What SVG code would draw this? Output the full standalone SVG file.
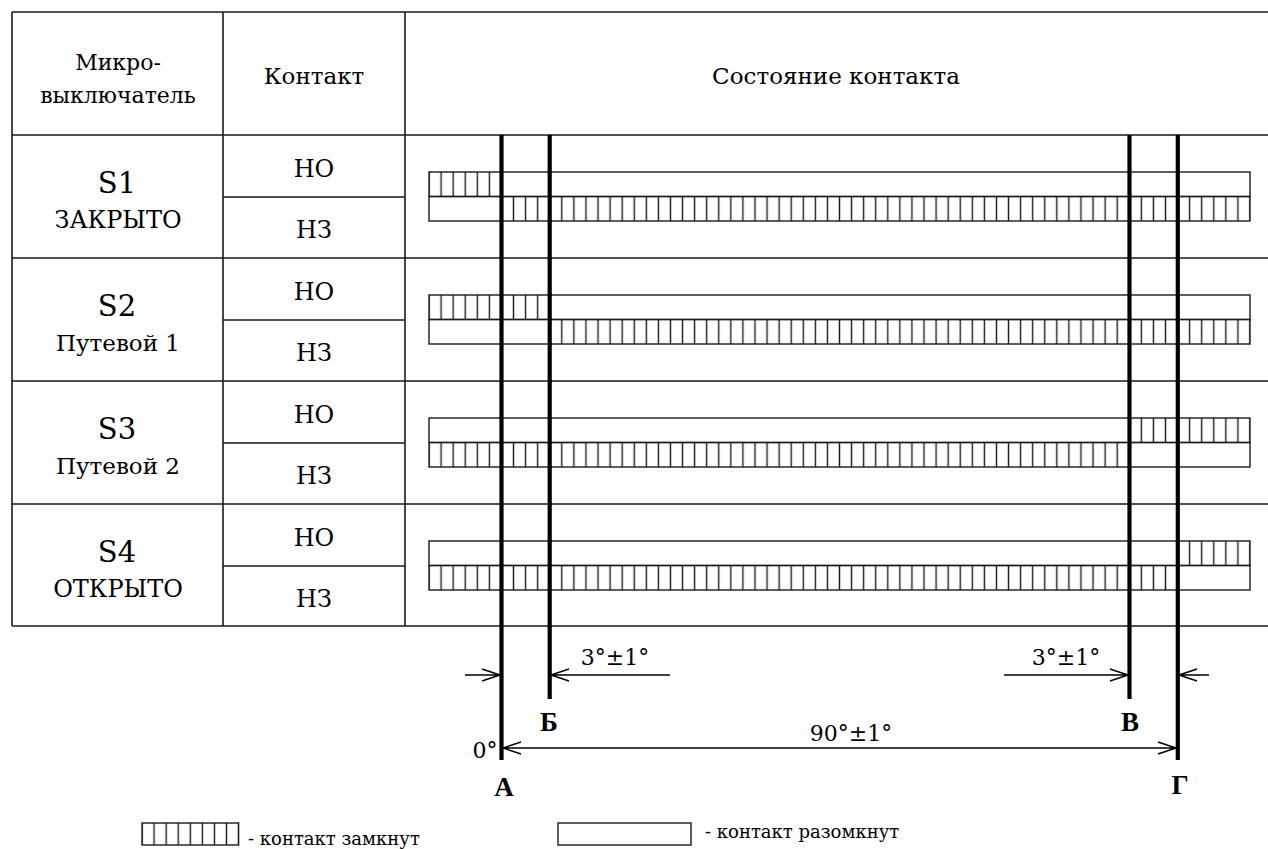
<svg xmlns="http://www.w3.org/2000/svg" width="1268" height="849" viewBox="0 0 1268 849">
<style>
.grid{stroke:#1a1a1a;stroke-width:1.6;fill:none}
.bar{stroke:#1a1a1a;stroke-width:1.4;fill:none}
.thick{stroke:#000;stroke-width:4.2}
.dim{stroke:#000;stroke-width:1.5;fill:none}
</style>
<defs>
<pattern id="hatch" patternUnits="userSpaceOnUse" x="422.963" y="0" width="12.0735" height="20">
<line x1="6.037" y1="0" x2="6.037" y2="20" stroke="#1a1a1a" stroke-width="1.4"/>
</pattern>
<pattern id="hatchL" patternUnits="userSpaceOnUse" x="135.963" y="0" width="12.0735" height="20">
<line x1="6.037" y1="0" x2="6.037" y2="20" stroke="#1a1a1a" stroke-width="1.4"/>
</pattern>
</defs>
<rect width="1268" height="849" fill="#fff"/>

<g id="table">
<path class="grid" d="M12,12H1268M12,135H1268M12,258H1268M12,381H1268M12,504H1268M12,626H1268M12,12V626M223,12V626M405,12V626M223,197H405M223,320H405M223,443H405M223,566H405"/>
</g>

<g text-anchor="middle" fill="#000">
<g id="header">
<text font-family="DejaVu Serif" font-size="22" x="118" y="70">Микро-</text>
<text font-family="DejaVu Serif" font-size="22" x="118" y="103">выключатель</text>
<text font-family="DejaVu Serif" font-size="23" x="314" y="84">Контакт</text>
<text font-family="DejaVu Serif" font-size="23" x="836" y="84">Состояние контакта</text>
</g>

<g id="s1">
<text font-family="DejaVu Serif" font-size="29" x="117" y="193">S1</text>
<text font-family="DejaVu Serif" font-size="24" x="118" y="228">ЗАКРЫТО</text>
<text font-family="DejaVu Serif" font-size="24" x="314" y="177">НО</text>
<text font-family="DejaVu Serif" font-size="24" x="314" y="238">НЗ</text>
</g>
<g id="s2">
<text font-family="DejaVu Serif" font-size="29" x="117" y="316">S2</text>
<text font-family="DejaVu Serif" font-size="23" x="118" y="351">Путевой 1</text>
<text font-family="DejaVu Serif" font-size="24" x="314" y="300">НО</text>
<text font-family="DejaVu Serif" font-size="24" x="314" y="361">НЗ</text>
</g>
<g id="s3">
<text font-family="DejaVu Serif" font-size="29" x="117" y="439">S3</text>
<text font-family="DejaVu Serif" font-size="23" x="118" y="474">Путевой 2</text>
<text font-family="DejaVu Serif" font-size="24" x="314" y="423">НО</text>
<text font-family="DejaVu Serif" font-size="24" x="314" y="484">НЗ</text>
</g>
<g id="s4">
<text font-family="DejaVu Serif" font-size="29" x="117" y="562">S4</text>
<text font-family="DejaVu Serif" font-size="24" x="118" y="597">ОТКРЫТО</text>
<text font-family="DejaVu Serif" font-size="24" x="314" y="546">НО</text>
<text font-family="DejaVu Serif" font-size="24" x="314" y="607">НЗ</text>
</g>

<g id="labels">
<text font-family="DejaVu Serif" font-size="22" x="615" y="665">3°±1°</text>
<text font-family="DejaVu Serif" font-size="22" x="1066" y="665">3°±1°</text>
<text font-family="DejaVu Serif" font-size="22" x="851" y="741">90°±1°</text>
<text font-family="DejaVu Serif" font-size="22" x="485" y="758">0°</text>
<text font-family="Liberation Serif" font-size="27" font-weight="bold" x="549" y="731">Б</text>
<text font-family="Liberation Serif" font-size="27" font-weight="bold" x="504" y="796">А</text>
<text font-family="Liberation Serif" font-size="27" font-weight="bold" x="1130" y="731">В</text>
<text font-family="Liberation Serif" font-size="27" font-weight="bold" x="1180" y="794">Г</text>
</g>
<g id="legend-text" text-anchor="start">
<text font-family="DejaVu Serif" font-size="18" x="248" y="845">- контакт замкнут</text>
<text font-family="DejaVu Serif" font-size="18" x="705" y="838">- контакт разомкнут</text>
</g>
</g>

<g id="bars">
<rect x="429" y="172" width="72.44" height="24.5" fill="url(#hatch)"/>
<rect x="501.44" y="196.5" width="748.56" height="24.5" fill="url(#hatch)"/>
<rect class="bar" x="429" y="172" width="821" height="24.5"/>
<rect class="bar" x="429" y="196.5" width="821" height="24.5"/>
<rect x="429" y="295" width="120.7" height="24.5" fill="url(#hatch)"/>
<rect x="549.7" y="319.5" width="700.3" height="24.5" fill="url(#hatch)"/>
<rect class="bar" x="429" y="295" width="821" height="24.5"/>
<rect class="bar" x="429" y="319.5" width="821" height="24.5"/>
<rect x="1129.3" y="418" width="120.7" height="24.5" fill="url(#hatch)"/>
<rect x="429" y="442.5" width="700.3" height="24.5" fill="url(#hatch)"/>
<rect class="bar" x="429" y="418" width="821" height="24.5"/>
<rect class="bar" x="429" y="442.5" width="821" height="24.5"/>
<rect x="1177.6" y="541" width="72.4" height="24.5" fill="url(#hatch)"/>
<rect x="429" y="565.5" width="748.6" height="24.5" fill="url(#hatch)"/>
<rect class="bar" x="429" y="541" width="821" height="24.5"/>
<rect class="bar" x="429" y="565.5" width="821" height="24.5"/>
</g>

<g id="connectors">
<line class="thick" x1="501.5" y1="135" x2="501.5" y2="760"/>
<line class="thick" x1="549.7" y1="135" x2="549.7" y2="699"/>
<line class="thick" x1="1129.5" y1="135" x2="1129.5" y2="699"/>
<line class="thick" x1="1177.8" y1="135" x2="1177.8" y2="760"/>
<path class="dim" d="M465,675H500M482,669L500,675L482,681"/>
<path class="dim" d="M551,675H670M569,669L551,675L569,681"/>
<path class="dim" d="M1004,675H1128M1110,669L1128,675L1110,681"/>
<path class="dim" d="M1179,675H1209M1197,669L1179,675L1197,681"/>
<path class="dim" d="M503,748H1176M521,742L503,748L521,754M1158,742L1176,748L1158,754"/>
</g>

<g id="legend">
<rect x="142" y="823" width="96.6" height="22" fill="url(#hatchL)"/>
<rect class="bar" x="142" y="823" width="96.6" height="22"/>
<rect class="bar" x="558" y="823" width="133" height="22"/>
</g>
</svg>
